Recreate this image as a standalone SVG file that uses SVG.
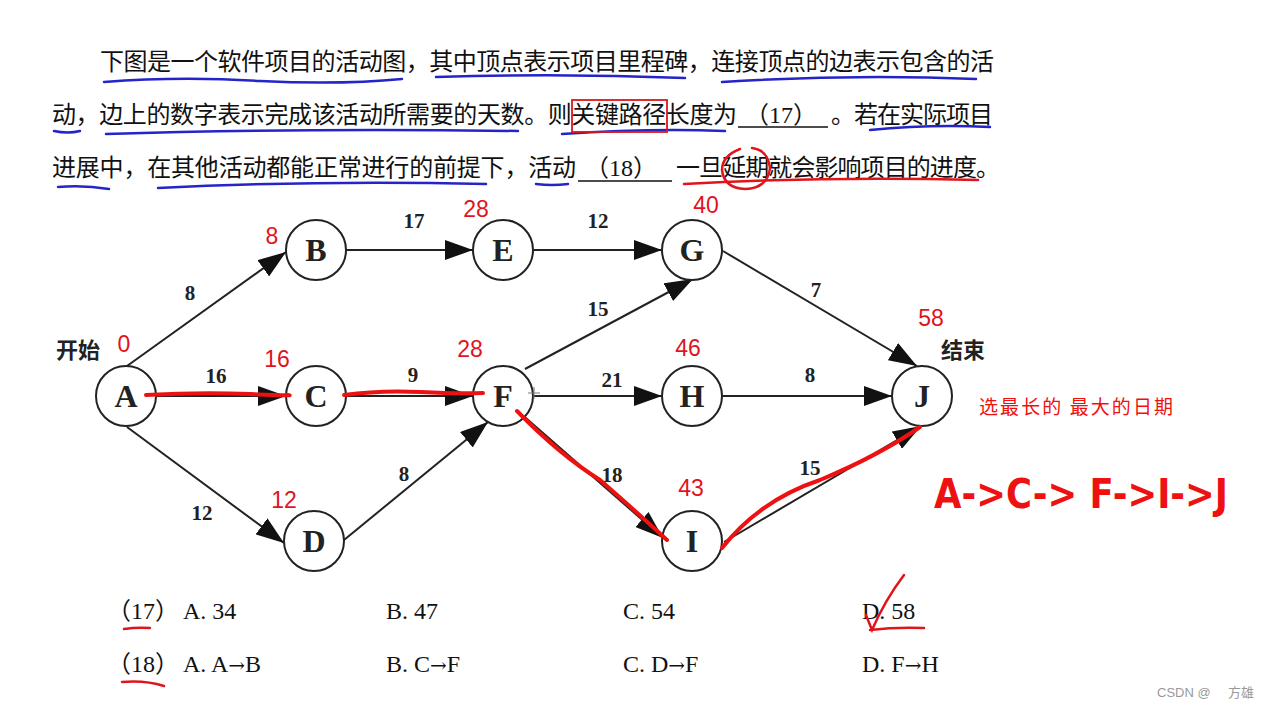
<svg xmlns="http://www.w3.org/2000/svg" width="1272" height="708" viewBox="0 0 1272 708">
<style>
.q{font-family:"Liberation Serif","Noto Sans CJK SC",serif;font-size:24px;fill:#111}
.opt{font-family:"Liberation Serif","Noto Sans CJK SC",serif;font-size:24px;fill:#111}
.ar{font-family:"DejaVu Serif",serif;font-size:20px}
.node circle{fill:#fff;stroke:#222;stroke-width:2}
.node text{font-family:"Liberation Serif",serif;font-weight:bold;font-size:32px;fill:#222;text-anchor:middle}
.edge{stroke:#222;stroke-width:2;fill:none;marker-end:url(#arr)}
.el{font-family:"Liberation Serif",serif;font-weight:bold;font-size:21px;fill:#222;text-anchor:middle}
.se{font-family:"Noto Sans CJK SC","Liberation Sans",sans-serif;font-weight:bold;font-size:22px;fill:#222;text-anchor:middle}
.hw{font-family:"Liberation Sans",sans-serif;font-size:23px;fill:#e0141c;text-anchor:middle}
.blue{stroke:#2424c8;stroke-width:2.5;fill:none;stroke-linecap:round}
.red{stroke:#e0141c;stroke-width:2.5;fill:none;stroke-linecap:round}
.redk{stroke:#ee1111;stroke-width:4;fill:none;stroke-linecap:round;stroke-linejoin:round}
</style>
<defs>
<marker id="arr" markerUnits="userSpaceOnUse" markerWidth="28" markerHeight="20" refX="28" refY="10" orient="auto">
<path d="M0,0 L28,10 L0,20 Z" fill="#111"/>
</marker>
</defs>
<rect width="1272" height="708" fill="#fff"/>

<!-- problem text -->
<text class="q" x="100" y="70" textLength="894" lengthAdjust="spacing">下图是一个软件项目的活动图，其中顶点表示项目里程碑，连接顶点的边表示包含的活</text>
<text class="q" x="52" y="123" textLength="685" lengthAdjust="spacing">动，边上的数字表示完成该活动所需要的天数。则关键路径长度为</text>
<text class="q" x="745" y="123">（17）</text>
<line x1="738" y1="127" x2="828" y2="127" stroke="#111" stroke-width="1.5"/>
<text class="q" x="831" y="123" textLength="162" lengthAdjust="spacing">。若在实际项目</text>
<text class="q" x="52" y="176" textLength="524" lengthAdjust="spacing">进展中，在其他活动都能正常进行的前提下，活动</text>
<text class="q" x="585" y="176">（18）</text>
<line x1="578" y1="181" x2="672" y2="181" stroke="#111" stroke-width="1.5"/>
<text class="q" x="676" y="176" textLength="324" lengthAdjust="spacing">一旦延期就会影响项目的进度。</text>

<!-- handwritten marks on text -->
<path class="blue" d="M104,82 Q180,76 260,81 Q340,85 402,79"/>
<path class="blue" d="M436,77 Q560,73 685,78"/>
<path class="blue" d="M722,82 Q850,74 976,79"/>
<path class="blue" d="M54,131 Q68,134 80,131"/>
<path class="blue" d="M106,134 Q300,128 518,131"/>
<path class="blue" d="M562,134 Q650,128 725,131"/>
<path class="blue" d="M870,130 Q930,124 990,127"/>
<path class="blue" d="M58,187 Q84,185 109,189"/>
<path class="blue" d="M158,188 Q320,180 486,184"/>
<path class="blue" d="M536,184 Q552,186 568,184"/>
<path class="red" d="M684,184 Q830,176 978,180" stroke="#c82020"/>
<rect x="572" y="100" width="95" height="32" fill="none" stroke="#e0141c" stroke-width="1.8"/>
<path class="red" d="M740,149 Q722,156 722,170 Q724,188 745,189 Q768,188 770,168 Q768,150 752,148"/>

<!-- connectors -->
<g id="connectors">
<line class="edge" x1="127" y1="366" x2="286" y2="252"/>
<line class="edge" x1="157" y1="396" x2="286" y2="396"/>
<line class="edge" x1="127" y1="427" x2="284" y2="543"/>
<line class="edge" x1="346" y1="250" x2="473" y2="250"/>
<line class="edge" x1="346" y1="396" x2="473" y2="396"/>
<line class="edge" x1="344" y1="540" x2="488" y2="422"/>
<line class="edge" x1="534" y1="250" x2="662" y2="250"/>
<line class="edge" x1="525" y1="369" x2="693" y2="279"/>
<line class="edge" x1="533" y1="396" x2="662" y2="396"/>
<line class="edge" x1="519" y1="412" x2="663" y2="538"/>
<line class="edge" x1="723" y1="251" x2="917" y2="366"/>
<line class="edge" x1="722" y1="396" x2="892" y2="396"/>
<line class="edge" x1="724" y1="542" x2="921" y2="426"/>
<text class="el" x="190" y="300">8</text>
<text class="el" x="414" y="228">17</text>
<text class="el" x="598" y="228">12</text>
<text class="el" x="598" y="316">15</text>
<text class="el" x="816" y="297">7</text>
<text class="el" x="216" y="383">16</text>
<text class="el" x="413" y="382">9</text>
<text class="el" x="612" y="387">21</text>
<text class="el" x="810" y="382">8</text>
<text class="el" x="404" y="481">8</text>
<text class="el" x="202" y="520">12</text>
<text class="el" x="612" y="482">18</text>
<text class="el" x="810" y="475">15</text>
</g>

<!-- nodes -->
<g id="node-A" class="node"><circle cx="126" cy="396" r="30"/><text x="126" y="407">A</text></g>
<g id="node-B" class="node"><circle cx="316" cy="250" r="30"/><text x="316" y="261">B</text></g>
<g id="node-C" class="node"><circle cx="316" cy="396" r="30"/><text x="316" y="407">C</text></g>
<g id="node-D" class="node"><circle cx="314" cy="541" r="30"/><text x="314" y="552">D</text></g>
<g id="node-E" class="node"><circle cx="503" cy="250" r="30"/><text x="503" y="261">E</text></g>
<g id="node-F" class="node"><circle cx="503" cy="396" r="30"/><text x="503" y="407">F</text></g>
<g id="node-G" class="node"><circle cx="692" cy="250" r="30"/><text x="692" y="261">G</text></g>
<g id="node-H" class="node"><circle cx="692" cy="396" r="30"/><text x="692" y="407">H</text></g>
<g id="node-I" class="node"><circle cx="692" cy="541" r="30"/><text x="692" y="552">I</text></g>
<g id="node-J" class="node"><circle cx="922" cy="396" r="30"/><text x="922" y="407">J</text></g>
<text class="se" x="78" y="358">开始</text>
<text class="se" x="963" y="358">结束</text>
<path d="M528,393 H540 M534,387 V399" stroke="#777" stroke-width="1"/>

<!-- red handwritten annotations on graph -->
<g id="annotations">
<text class="hw" x="272" y="244">8</text>
<text class="hw" x="476" y="217">28</text>
<text class="hw" x="706" y="213">40</text>
<text class="hw" x="124" y="352">0</text>
<text class="hw" x="277" y="367">16</text>
<text class="hw" x="470" y="357">28</text>
<text class="hw" x="688" y="356">46</text>
<text class="hw" x="284" y="508">12</text>
<text class="hw" x="691" y="496">43</text>
<text class="hw" x="931" y="326">58</text>
<path class="redk" d="M146,395 Q200,392 250,394 T287,395"/>
<path class="redk" d="M344,395 Q380,390 420,392 T483,393"/>
<path class="redk" d="M517,411 Q560,455 600,480 Q640,515 667,540"/>
<path class="redk" d="M722,548 Q760,500 820,480 Q880,455 920,427"/>
<text x="979" y="414" font-family="Noto Sans CJK SC, Liberation Sans, sans-serif" font-size="19" fill="#f01010" textLength="194" lengthAdjust="spacing">选最长的 最大的日期</text>
<text x="934" y="508" font-family="DejaVu Sans, sans-serif" font-weight="bold" font-size="40" fill="#ee1111" textLength="294" lengthAdjust="spacingAndGlyphs">A-&gt;C-&gt; F-&gt;I-&gt;J</text>
</g>

<!-- options -->
<text class="opt" x="107" y="619">（17）</text>
<text class="opt" x="183" y="619">A. 34</text>
<text class="opt" x="386" y="619">B. 47</text>
<text class="opt" x="623" y="619">C. 54</text>
<text class="opt" x="862" y="619">D. 58</text>
<text class="opt" x="107" y="672">（18）</text>
<text class="opt" x="183" y="672">A. A<tspan class="ar">→</tspan>B</text>
<text class="opt" x="386" y="672">B. C<tspan class="ar">→</tspan>F</text>
<text class="opt" x="623" y="672">C. D<tspan class="ar">→</tspan>F</text>
<text class="opt" x="862" y="672">D. F<tspan class="ar">→</tspan>H</text>
<path class="red" d="M124,629 Q137,627 150,628"/>
<path class="red" d="M122,682 Q145,680 164,686"/>
<path class="red" d="M866,615 Q870,625 872,630 Q885,600 904,575 M870,630 Q895,627 924,628"/>

<text x="1157" y="697" font-family="Liberation Sans, sans-serif" font-size="13" fill="#999">CSDN @</text>
<text x="1228" y="697" font-family="Noto Sans CJK SC, sans-serif" font-size="13" fill="#999">方雄</text>
</svg>
